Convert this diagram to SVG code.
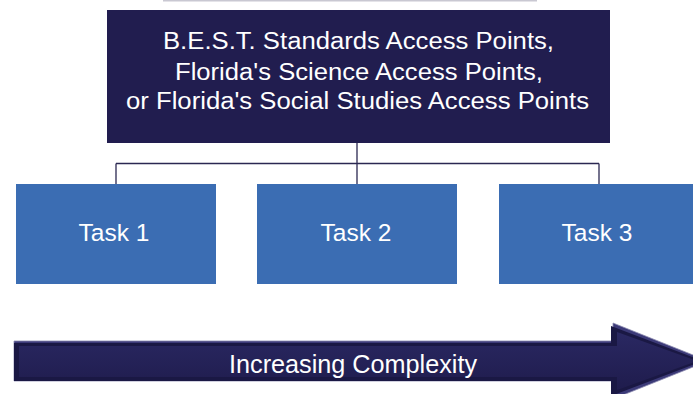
<svg xmlns="http://www.w3.org/2000/svg" width="693" height="394" viewBox="0 0 693 394">
<defs>
<style>
.task{fill:#3B6DB3;}
.ttext{font-family:"Liberation Sans",Arial,sans-serif;font-size:24.5px;fill:#ffffff;text-anchor:middle;}
.htext{font-family:"Liberation Sans",Arial,sans-serif;font-size:23.5px;fill:#ffffff;text-anchor:middle;}
.conn{stroke:#2b2852;stroke-width:1.3;fill:none;}
</style>
<linearGradient id="shaft" x1="0" y1="0" x2="0" y2="1">
<stop offset="0" stop-color="#2a2862"/>
<stop offset="1" stop-color="#1f1c4d"/>
</linearGradient>
</defs>
<rect x="163" y="0" width="374" height="1.5" fill="#c9c8d2"/>
<g id="connectors">
<path class="conn" d="M357,143 V184 M116,163.5 H599 M116,163.5 V184 M599,163.5 V184"/>
</g>
<g id="top">
<rect x="107" y="10" width="503" height="133" fill="#211D4F"/>
<text class="htext" x="358.5" y="49" textLength="391" lengthAdjust="spacingAndGlyphs">B.E.S.T. Standards Access Points,</text>
<text class="htext" x="359" y="79.5" textLength="368" lengthAdjust="spacingAndGlyphs">Florida's Science Access Points,</text>
<text class="htext" x="357.5" y="108.5" textLength="463" lengthAdjust="spacingAndGlyphs">or Florida's Social Studies Access Points</text>
</g>
<g id="task1">
<rect class="task" x="16" y="184" width="200" height="100"/>
<text class="ttext" x="114" y="240.5">Task 1</text>
</g>
<g id="task2">
<rect class="task" x="257" y="184" width="200" height="100"/>
<text class="ttext" x="356" y="240.5">Task 2</text>
</g>
<g id="task3">
<rect class="task" x="499" y="184" width="200" height="100"/>
<text class="ttext" x="597" y="240.5">Task 3</text>
</g>
<g id="arrow">
<polygon points="14,341 613,341 613,323 708,361 613,399 613,381 14,381" fill="#3c3a78" stroke="#8c8ab0" stroke-width="0.8"/>
<polygon points="14,343 611,343 611,326 703,361 611,396 611,381 14,381" fill="#1a1844"/>
<polygon points="19,346 617,346 617,332 697,361 617,390 617,377 19,377" fill="url(#shaft)"/>
<text x="353" y="372.5" font-family="'Liberation Sans Narrow','Liberation Sans',Arial,sans-serif" font-size="26" fill="#ffffff" text-anchor="middle" textLength="248" lengthAdjust="spacingAndGlyphs">Increasing Complexity</text>
</g>
</svg>
